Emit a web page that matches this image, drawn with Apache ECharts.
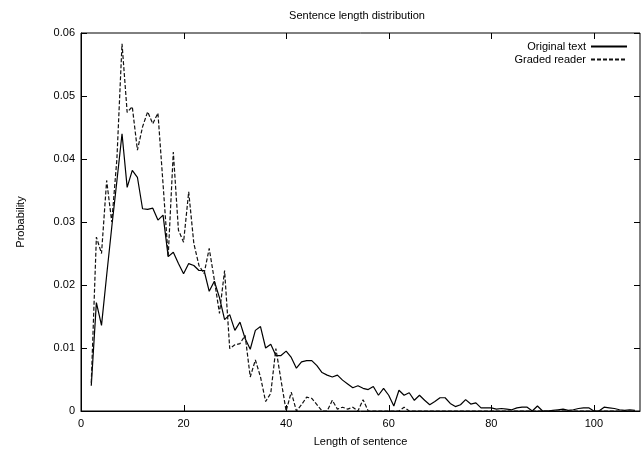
<!DOCTYPE html>
<html>
<head>
<meta charset="utf-8">
<script src="https://cdn.jsdelivr.net/npm/echarts@6/dist/echarts.min.js"></script>
<style>
html,body{margin:0;padding:0;background:#fff;}
#chart{width:643px;height:452px;}
</style>
</head>
<body>
<div id="chart"></div>
<script>
// Sentence lengths (x values)
var lengths = [2,3,4,5,6,7,8,9,10,11,12,13,14,15,16,17,18,19,20,21,22,23,24,25,26,27,28,29,30,31,32,33,34,35,36,37,38,39,40,41,42,43,44,45,46,47,48,49,50,51,52,53,54,55,56,57,58,59,60,61,62,63,64,65,66,67,68,69,70,71,72,73,74,75,76,77,78,79,80,81,82,83,84,85,86,87,88,89,90,91,92,93,94,95,96,97,98,99,100,101,102,103,104,105,106,107,108];

// Probability – Original text
var originalText = [
0.0040,0.0172,0.0136,0.0215,0.0292,0.0365,0.0440,0.0355,0.0382,0.0371,
0.0321,0.0320,0.0322,0.0303,0.0311,0.0245,0.0252,0.0234,0.0218,0.0234,
0.0231,0.0223,0.0223,0.0190,0.0206,0.0180,0.0145,0.0153,0.0128,0.0141,
0.0115,0.0098,0.0128,0.0134,0.0100,0.0106,0.0088,0.0088,0.0095,0.0085,
0.0068,0.0078,0.0080,0.0080,0.0072,0.0061,0.0057,0.0054,0.0057,0.0049,
0.0043,0.0037,0.0040,0.0036,0.0034,0.0039,0.0025,0.0036,0.0025,0.0008,
0.0033,0.0025,0.0029,0.0017,0.0025,0.0017,0.0010,0.0015,0.0021,0.0021,
0.0012,0.0007,0.0010,0.0018,0.0011,0.0013,0.0005,0.0005,0.0005,0.0003,
0.0004,0.0003,0.0002,0.0005,0.0006,0.0006,0.0000,0.0008,0.0000,0.0000,
0.0001,0.0002,0.0003,0.0001,0.0002,0.0004,0.0005,0.0005,0.0000,0.0000,
0.0006,0.0005,0.0004,0.0002,0.0001,0.0002,0.0001];

// Probability – Graded reader
var gradedReader = [
0.0045,0.0276,0.0250,0.0366,0.0300,0.0400,0.0583,0.0474,0.0483,0.0414,
0.0451,0.0475,0.0456,0.0473,0.0360,0.0245,0.0411,0.0287,0.0268,0.0348,
0.0266,0.0231,0.0218,0.0258,0.0208,0.0155,0.0223,0.0099,0.0105,0.0107,
0.0120,0.0054,0.0081,0.0054,0.0015,0.0028,0.0099,0.0049,0.0000,0.0030,
0.0000,0.0010,0.0022,0.0020,0.0010,0.0000,0.0000,0.0017,0.0003,0.0006,
0.0003,0.0006,0.0000,0.0018,0.0000,0.0000,0.0000,0.0000,0.0000,0.0000,
0.0000,0.0006,0.0000,0.0000,0.0000,0.0000,0.0000,0.0000,0.0000,0.0000,
0.0000,0.0000,0.0000,0.0000,0.0000,0.0000,0.0000,0.0000,0.0000,0.0000,
0.0000,0.0000,0.0000,0.0000,0.0000,0.0000,0.0000,0.0000,0.0000,0.0000,
0.0000,0.0000,0.0000,0.0000,0.0000,0.0000,0.0000,0.0000,0.0000,0.0000,
0.0000,0.0000,0.0000,0.0000,0.0000,0.0000,0.0000];

var xTicks = [0,20,40,60,80,100];
var yTicks = [0,0.01,0.02,0.03,0.04,0.05,0.06];

function pairs(vals){ return lengths.map(function(x,i){ return [x, vals[i]]; }); }

var FONT = 'Liberation Sans, Arial, sans-serif';
var XMAX = 109, YMAX = 0.06;
var TICK = 6;

var chart = echarts.init(document.getElementById('chart'), null, {renderer:'canvas'});

var xLabelFmt = function(v){ return xTicks.indexOf(v) >= 0 ? String(v) : ''; };
var yLabelFmt = function(v){ return v === 0 ? '0' : v.toFixed(2); };

chart.setOption({
  animation:false,
  backgroundColor:'#fff',
  title:{
    text:'Sentence length distribution',
    left:352, top:5, textAlign:'center',
    textStyle:{fontFamily:FONT, fontSize:11, fontWeight:'normal', color:'#000'}
  },
  legend:{
    orient:'vertical', right:10, top:36, align:'right',
    itemWidth:36, itemHeight:8, itemGap:2,
    itemStyle:{opacity:0},
    textStyle:{fontFamily:FONT, fontSize:11, color:'#000'},
    data:[{name:'Original text'},{name:'Graded reader'}]
  },
  grid:{left:81, right:2, top:33, bottom:41, show:true, borderColor:'#000', borderWidth:1, backgroundColor:'transparent'},
  xAxis:{
    type:'value', min:0, max:XMAX, interval:20, position:'bottom',
    name:'Length of sentence', nameLocation:'middle', nameGap:25,
    nameTextStyle:{fontFamily:FONT, fontSize:11, color:'#000'},
    axisLine:{show:true, lineStyle:{color:'#000', width:1}},
    axisTick:{show:false},
    axisLabel:{fontFamily:FONT, fontSize:11, color:'#000', margin:7, formatter:xLabelFmt},
    splitLine:{show:false}
  },
  yAxis:{
    type:'value', min:0, max:YMAX, interval:0.01, position:'left',
    name:'Probability', nameLocation:'middle', nameGap:55, nameRotate:90,
    nameTextStyle:{fontFamily:FONT, fontSize:11, color:'#000'},
    axisLine:{show:true, lineStyle:{color:'#000', width:1}},
    axisTick:{show:false},
    axisLabel:{fontFamily:FONT, fontSize:11, color:'#000', margin:6, formatter:yLabelFmt},
    splitLine:{show:false}
  },
  series:[{
    name:'Original text', type:'line', data:pairs(originalText),
    symbol:'none', showSymbol:false, smooth:false, clip:true,
    color:'#000',
    lineStyle:{color:'#000', width:1.2, type:'solid'}
  },{
    name:'Graded reader', type:'line', data:pairs(gradedReader),
    symbol:'none', showSymbol:false, smooth:false, clip:true,
    color:'#000',
    lineStyle:{color:'#111', width:1.2, type:[4,2]}
  }]
});

// inward ticks on all four borders (gnuplot style), placed through the axes' own scales
(function(){
  var x0 = chart.convertToPixel({xAxisIndex:0}, 0);
  var x1 = chart.convertToPixel({xAxisIndex:0}, XMAX);
  var y0 = chart.convertToPixel({yAxisIndex:0}, 0);
  var y1 = chart.convertToPixel({yAxisIndex:0}, YMAX);
  var els = [];
  var st = {stroke:'#000', lineWidth:1};
  xTicks.forEach(function(v){
    var px = Math.round(chart.convertToPixel({xAxisIndex:0}, v)) + 0.5;
    els.push({type:'line', silent:true, shape:{x1:px, y1:y0, x2:px, y2:y0 - TICK}, style:st});
    els.push({type:'line', silent:true, shape:{x1:px, y1:y1, x2:px, y2:y1 + TICK}, style:st});
  });
  yTicks.forEach(function(v){
    var py = Math.round(chart.convertToPixel({yAxisIndex:0}, v)) + 0.5;
    els.push({type:'line', silent:true, shape:{x1:x0, y1:py, x2:x0 + TICK, y2:py}, style:st});
    els.push({type:'line', silent:true, shape:{x1:x1, y1:py, x2:x1 - TICK, y2:py}, style:st});
  });
  chart.setOption({graphic:{elements:els}});
})();
</script>
</body>
</html>
